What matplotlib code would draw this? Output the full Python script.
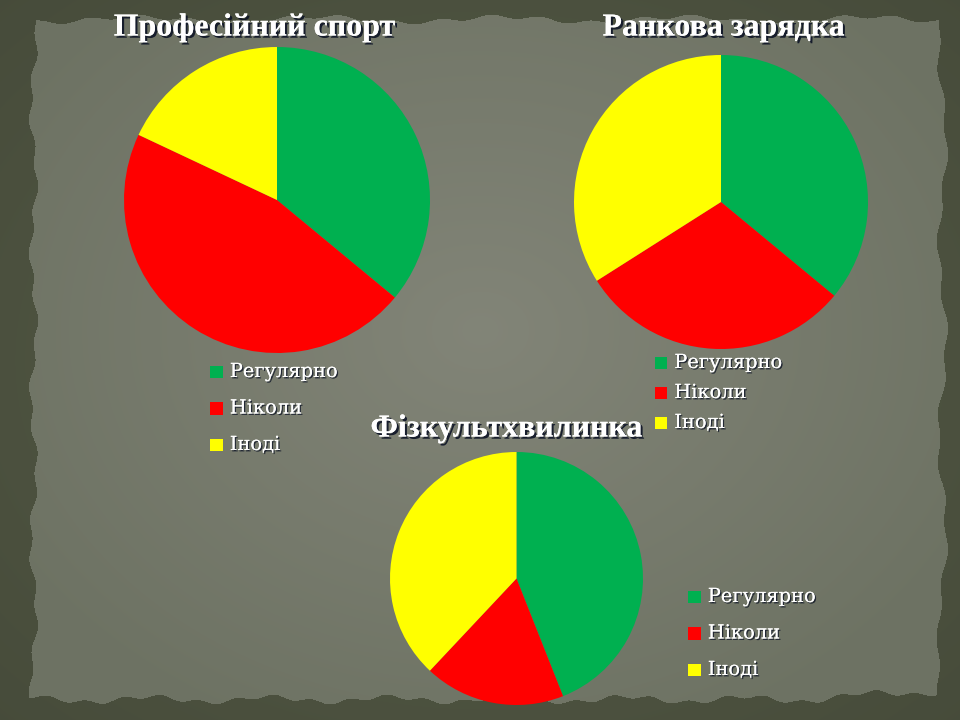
import numpy as np
import matplotlib
matplotlib.use("Agg")
import matplotlib.pyplot as plt
import matplotlib.patheffects as pe
from matplotlib.patches import Rectangle

# data
labels = ["Регулярно", "Ніколи", "Іноді"]
colors = ["#00B050", "#FF0000", "#FFFF00"]

titles = ["Професійний спорт", "Ранкова зарядка", "Фізкультхвилинка"]
sport_values = [36, 46, 18]
morning_values = [36, 30, 34]
break_values = [44, 18, 38]

W, H = 960, 720
title_fx = [pe.withSimplePatchShadow(offset=(1.6, -1.6), shadow_rgbFace="#0d1426", alpha=0.9), pe.Normal()]
text_fx = [pe.withSimplePatchShadow(offset=(1.0, -1.0), shadow_rgbFace="#0d1426", alpha=0.8), pe.Normal()]


def make_background(fig):
    bg = fig.add_axes([0, 0, 1, 1])
    bg.axis("off")
    yy, xx = np.mgrid[0:H, 0:W]
    outer = np.array([0.29, 0.31, 0.24])
    # soft darkening towards the corners of the outer frame
    d = np.sqrt(((xx - W / 2) / (W / 2)) ** 2 + ((yy - H / 2) / (H / 2)) ** 2)
    img = outer[None, None, :] * (1.05 - 0.15 * np.clip(d - 0.8, 0, 1))[:, :, None]
    # inner panel with slightly rough edges
    left = 33 + 3 * np.sin(yy / 23.0) + 2 * np.sin(yy / 7.0)
    right = 942 - 4 * np.sin(yy / 31.0) - 2 * np.sin(yy / 9.0) - 6 * (yy > 640) * (yy - 640) / 60.0
    top = 19 + 3 * np.sin(xx / 29.0) + 2 * np.sin(xx / 8.0)
    bottom = 699 - 3 * np.sin(xx / 19.0) - 2 * np.sin(xx / 6.0) - 10 * (xx > 800) * (xx - 800) / 160.0
    mask = (xx > left) & (xx < right) & (yy > top) & (yy < bottom)
    pd = np.sqrt(((xx - 480) / 540.0) ** 2 + ((yy - 330) / 430.0) ** 2)
    light = np.array([0.51, 0.52, 0.47])
    dark = np.array([0.43, 0.45, 0.39])
    t = np.clip(pd, 0, 1)[:, :, None]
    panel = light[None, None, :] * (1 - t) + dark[None, None, :] * t
    img = np.where(mask[:, :, None], panel, img)
    bg.imshow(img, extent=[0, 1, 0, 1], aspect="auto", zorder=0)
    bg.set_xlim(0, 1)
    bg.set_ylim(0, 1)


def draw_pie(fig, values, left, top, size):
    ax = fig.add_axes([left / W, (H - top - size) / H, size / W, size / H])
    ax.pie(values, colors=colors, startangle=90, counterclock=False,
           wedgeprops=dict(linewidth=0))
    ax.set_xlim(-1, 1)
    ax.set_ylim(-1, 1)
    ax.set_aspect("equal")
    ax.axis("off")
    return ax


def draw_legend(fig, x, y0, dy, fs=14):
    sq = 12.5
    for i, (lab, col) in enumerate(zip(labels, colors)):
        y = y0 + i * dy
        fig.patches.append(Rectangle(((x - sq / 2) / W, 1 - (y + sq / 2) / H), sq / W, sq / H,
                                     transform=fig.transFigure, facecolor=col, edgecolor="none"))
        fig.text((x + sq / 2 + 7) / W, 1 - y / H, lab, color="white", fontsize=fs,
                 family="DejaVu Serif", va="center", ha="left", path_effects=text_fx)


def title(fig, txt, x, y):
    fig.text(x / W, 1 - y / H, txt, color="white", fontsize=23, fontweight="bold",
             family="Liberation Serif", ha="center", va="center", path_effects=title_fx)


fig = plt.figure(figsize=(9.6, 7.2), dpi=100)
make_background(fig)

draw_pie(fig, sport_values, 124, 47, 306)
draw_pie(fig, morning_values, 574, 55, 294)
draw_pie(fig, break_values, 390, 452, 253)

title(fig, titles[0], 255, 28)
title(fig, titles[1], 724, 28)
title(fig, titles[2], 507, 429)

draw_legend(fig, 216.5, 372, 36.5)
draw_legend(fig, 661, 363, 30)
draw_legend(fig, 694.5, 597, 36.5)

fig.savefig("out.png", dpi=100)
